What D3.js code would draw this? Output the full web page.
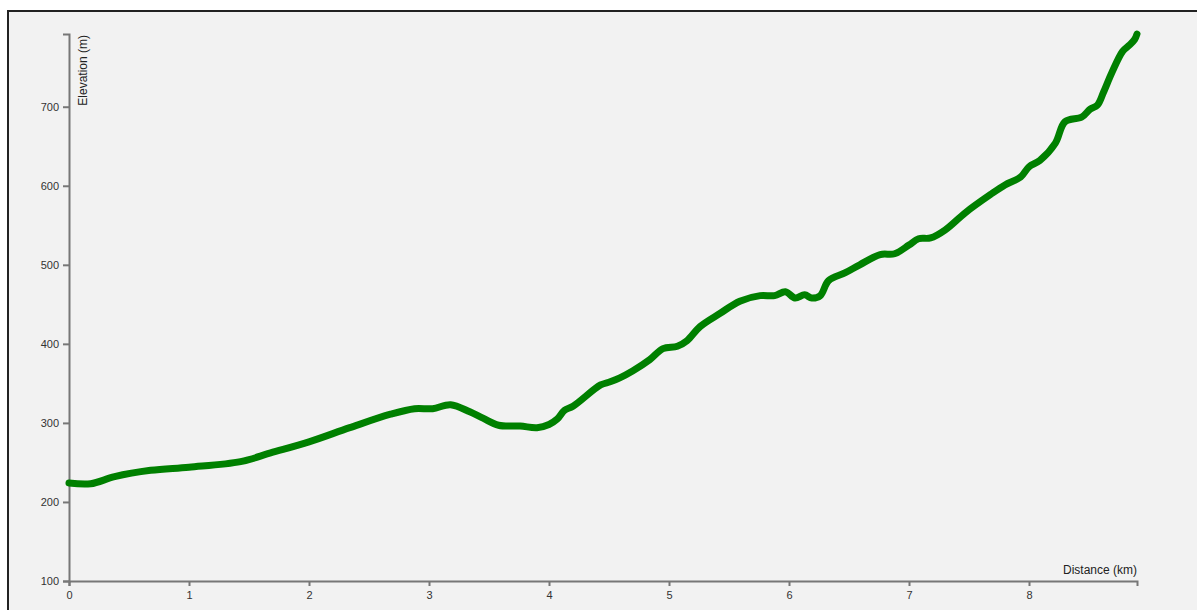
<!DOCTYPE html>
<html><head><meta charset="utf-8">
<script src="https://cdn.jsdelivr.net/npm/d3@7"></script>
<style>
body{margin:0;background:#fff;}
svg{display:block;font-family:Arial,"Liberation Sans",sans-serif;}
.axis path,.axis line{stroke:#777;stroke-width:2;}
</style></head><body>
<svg id="c" width="1197" height="610"></svg>
<script>
const distanceKm = [0,0.18,0.38,0.68,1.0,1.43,1.68,2.0,2.34,2.68,2.88,3.03,3.18,3.34,3.45,3.58,3.76,3.9,4.0,4.07,4.13,4.2,4.43,4.51,4.59,4.7,4.84,4.95,5.07,5.15,5.26,5.43,5.59,5.76,5.88,5.97,6.05,6.13,6.19,6.26,6.33,6.47,6.59,6.76,6.88,7.0,7.08,7.18,7.3,7.47,7.68,7.8,7.93,8.0,8.09,8.22,8.3,8.44,8.51,8.57,8.62,8.69,8.78,8.83,8.88,8.9];
const elevationM = [224,223,232,240,244,251,262,276,294,311,318,318,323,314,306,297,296,294,298,305,316,321,348,352,357,366,380,394,397,404,422,439,454,461,461,466,458,462,458,461,480,490,500,513,514,525,533,534,544,566,589,601,611,624,632,654,681,687,697,702,718,743,770,777,785,792];
const xTicks = [0,1,2,3,4,5,6,7,8];
const yTicks = [100,200,300,400,500,600,700];
const xLabel = "Distance (km)";
const yLabel = "Elevation (m)";

const svg = d3.select("#c");
svg.append("rect").attr("x",8).attr("y",11).attr("width",1300).attr("height",700)
  .attr("fill","#f2f2f2").attr("stroke","#222").attr("stroke-width",2);

const x = d3.scaleLinear().domain([0,8.9]).range([69,1137]);
const y = d3.scaleLinear().domain([100,792]).range([581,34]);

svg.append("g").attr("class","axis").attr("transform","translate(0,581)")
  .call(d3.axisBottom(x).tickValues(xTicks).tickFormat(d3.format("d")).tickSize(5).tickSizeOuter(5).tickPadding(5));
svg.append("g").attr("class","axis").attr("transform","translate(69,0)")
  .call(d3.axisLeft(y).tickValues(yTicks).tickSize(6).tickPadding(4).tickSizeOuter(6));
svg.selectAll(".axis text").attr("fill","#333").attr("font-size",11);

svg.append("text").attr("x",1137).attr("y",574).attr("text-anchor","end")
  .attr("font-size",12).attr("fill","#222").text(xLabel);
svg.append("text").attr("transform","translate(87,35) rotate(-90)").attr("text-anchor","end")
  .attr("font-size",12).attr("fill","#222").text(yLabel);

const data = distanceKm.map((d,i)=>[d,elevationM[i]]);
svg.append("path").datum(data)
  .attr("fill","none").attr("stroke","#008000").attr("stroke-width",7)
  .attr("stroke-linejoin","round").attr("stroke-linecap","round")
  .attr("d",d3.line().x(d=>x(d[0])).y(d=>y(d[1])).curve(d3.curveCatmullRom));
</script></body></html>
